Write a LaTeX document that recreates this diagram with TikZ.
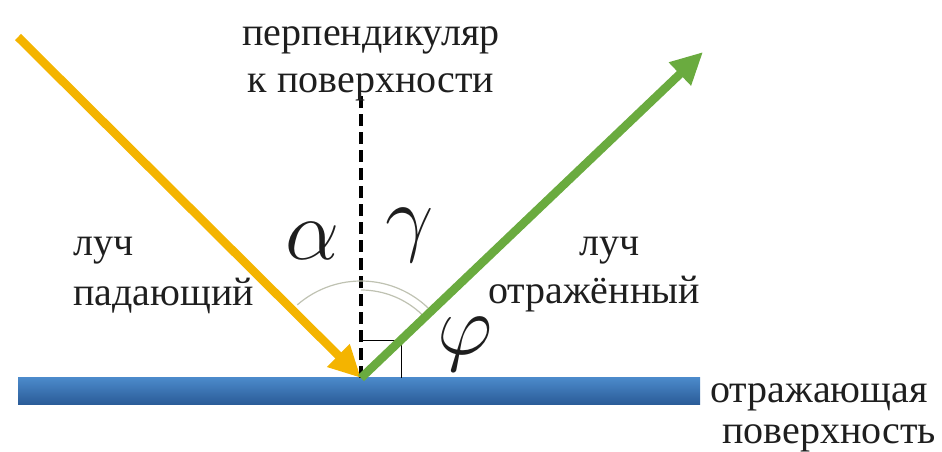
\RequirePackage{fix-cm}
\documentclass[tikz,border=0pt]{standalone}
\usepackage{fontspec}
\setmainfont{Liberation Serif}
\newfontfamily\lblfont{Liberation Serif}
\usetikzlibrary{arrows.meta}
\definecolor{rayY}{HTML}{F4B400}
\definecolor{rayG}{HTML}{6AAB3F}
\definecolor{barTop}{HTML}{4C8BCC}
\definecolor{barBot}{HTML}{2B5C98}
\definecolor{arcC}{HTML}{BFC2B2}
\definecolor{txt}{HTML}{1E1E1E}
\tikzset{
  lbl/.style={font=\lblfont\fontsize{40}{40}\selectfont, text=txt, inner sep=0pt},
  greek/.style={font=\fontsize{86}{86}\selectfont, text=txt, inner sep=0pt},
  ray/.style={line width=8.5pt},
}
\begin{document}
\begin{tikzpicture}[x=1pt,y=-1pt]
\useasboundingbox (0,0) rectangle (942,451);
% surface
\shade[top color=barTop, bottom color=barBot] (18,377) rectangle (700,404);
\coordinate (O) at (361,378);
\coordinate (Ys) at (18,37);
\coordinate (Ge) at (703,52);
\coordinate (Pt) at (361,95);
% perpendicular
\draw[line width=3.4pt, dash pattern=on 12pt off 6pt] (O) -- (Pt);
% arcs
\draw[arcC, line width=1.2pt] (O) ++(-131:97) arc[start angle=-131, end angle=-45, radius=97];
\draw[arcC, line width=1.2pt] (O) ++(-90:88) arc[start angle=-90, end angle=-46, radius=88];
% right angle
\draw[line width=0.8pt] (361,340) -| (401,378);
% rays
\draw[ray, rayY, -{Triangle[length=32pt,width=30pt]}] (Ys) -- (O);
\draw[ray, rayG, -{Triangle[length=32pt,width=30pt]}] (O) -- (Ge);
% labels
\node[lbl, anchor=base] (perp1) at (371,45) {перпендикуляр};
\node[lbl, anchor=base] (perp2) at (371,92) {к поверхности};
\node[lbl, anchor=base west] (l1) at (73,255) {луч};
\node[lbl, anchor=base west] (l2) at (73,305) {падающий};
\node[lbl, anchor=base east] (r1) at (640,255) {луч};
\node[lbl, anchor=base east] (r2) at (700,303) {отражённый};
\node[lbl, anchor=base west] (s1) at (710,402) {отражающая};
\node[lbl, anchor=base west] (s2) at (722,443) {поверхность};
\node[greek] (al) at (313,241) {$\alpha$};
\node[greek] (ga) at (410,235) {$\gamma$};
\node[greek] (ph) at (465,344) {$\varphi$};
\end{tikzpicture}
\end{document}
